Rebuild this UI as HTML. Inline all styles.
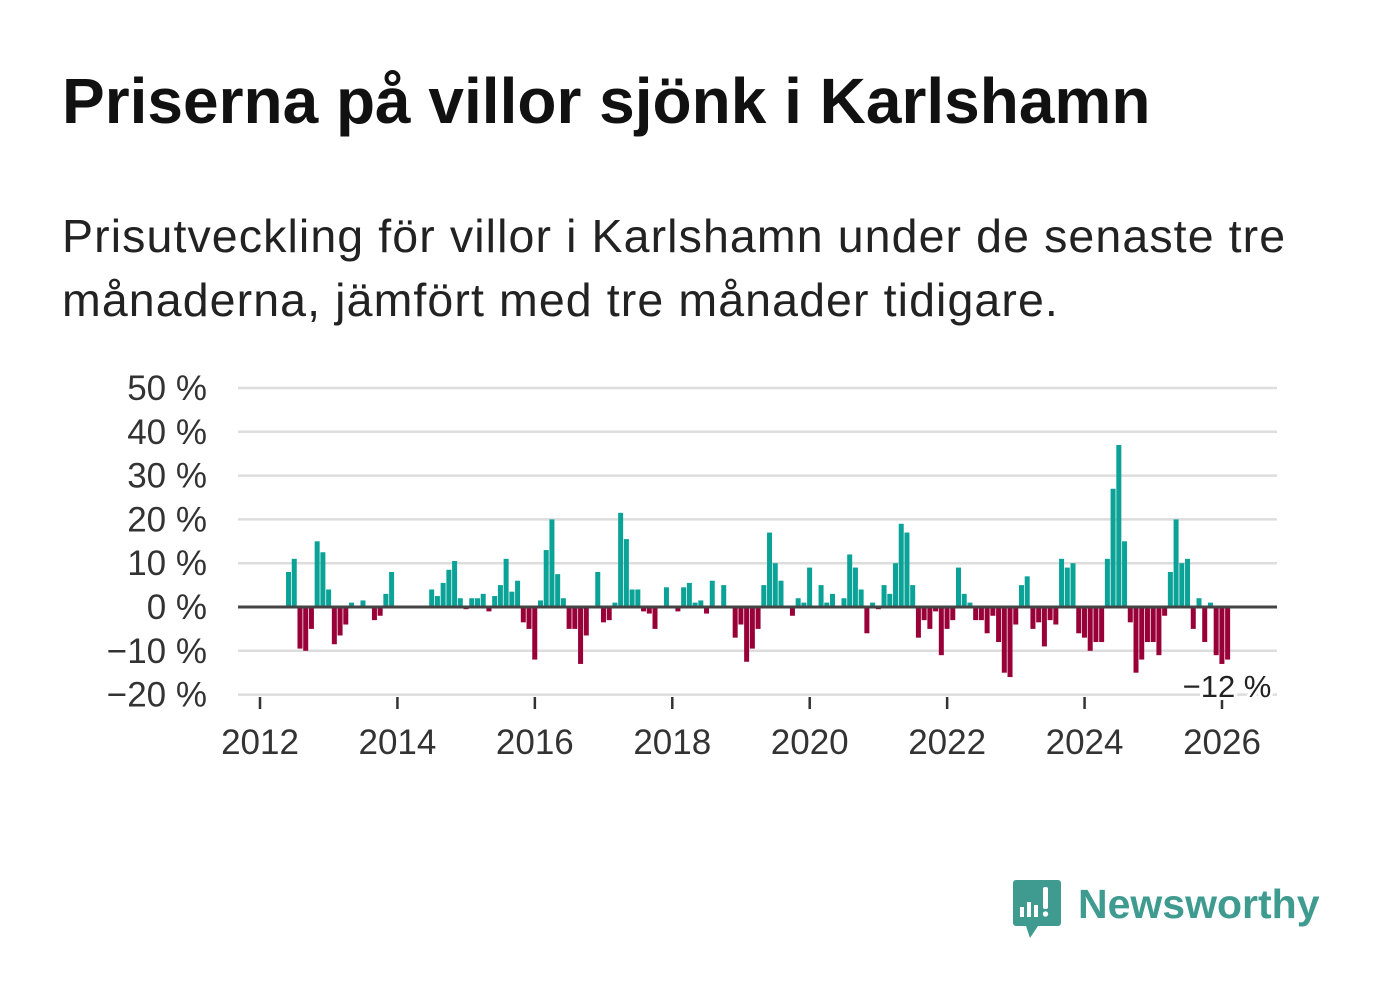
<!DOCTYPE html>
<html><head><meta charset="utf-8"><style>
body{margin:0;background:#fff;font-family:"Liberation Sans","DejaVu Sans",sans-serif;}
#wrap{position:relative;width:1382px;height:999px;overflow:hidden;}
h1{position:absolute;left:62px;top:64px;margin:0;font-size:64px;font-weight:bold;color:#111;letter-spacing:0px;white-space:nowrap;}
p.sub{position:absolute;left:62px;top:204px;margin:0;font-size:46.5px;letter-spacing:1.1px;line-height:64px;color:#222;width:1320px;white-space:nowrap;}
svg{position:absolute;left:0;top:0;}
</style></head><body><div id="wrap">
<h1>Priserna på villor sjönk i Karlshamn</h1>
<p class="sub">Prisutveckling för villor i Karlshamn under de senaste tre<br>månaderna, jämfört med tre månader tidigare.</p>
<svg id="chart" width="1382" height="999"></svg>
</div>
<script>
const yTicks=[50,40,30,20,10,0,-10,-20];
const xYears=[2012,2014,2016,2018,2020,2022,2024,2026];
const startMonth=5; // Jun 2012
const values=[8,11,-9.5,-10,-5,15,12.5,
4,-8.5,-6.5,-4,1,0,1.5,0,-3,-2,3,8,
0,0,0,0,0,0,4,2.5,5.5,8.5,10.5,2,
-0.5,2,2,3,-1,2.5,5,11,3.5,6,-3.5,-5,
-12,1.5,13,20,7.5,2,-5,-5,-13,-6.5,0,8,
-3.5,-3,1,21.5,15.5,4,4,-1,-1.5,-5,0,4.5,
0.3,-1,4.5,5.5,1,1.5,-1.5,6,0,5,0,-7,
-4,-12.5,-9.5,-5,5,17,10,6,0,-2,2,1,
9,0,5,1,3,0,2,12,9,4,-6,1,
-0.5,5,3,10,19,17,5,-7,-3,-5,-1,-11,
-5,-3,9,3,1,-3,-3,-6,-2,-8,-15,-16,
-4,5,7,-5,-3.5,-9,-3,-4,11,9,10,-6,
-7,-10,-8,-8,11,27,37,15,-3.5,-15,-12,-8,
-8,-11,-2,8,20,10,11,-5,2,-8,1,-11,-13,-12];
const lastLabel="−12 %";
const svg=document.getElementById('chart');
const NS='http://www.w3.org/2000/svg';
const y=v=>607-v*4.38;
const xm=i=>260+i*(962/168);
function mk(t,a){const e=document.createElementNS(NS,t);for(const k in a)e.setAttribute(k,a[k]);svg.appendChild(e);return e;}
yTicks.forEach(t=>{
 const g=mk('line',{x1:238,x2:1277,y1:y(t),y2:y(t),stroke:t===0?'#444':'#ddd','stroke-width':t===0?3:2.5});
 
 
 const tx=mk('text',{x:207,y:y(t)+12,'text-anchor':'end','font-size':35,fill:'#333','font-family':'Liberation Sans, sans-serif'});
 tx.textContent=(t<0?'−'+(-t):t)+' %';
 
 
});
values.forEach((v,k)=>{
 const i=startMonth+k; if(v===0)return;
 const b=mk('rect',{x:xm(i)-2.6,width:5,y:Math.min(y(v),y(0)),height:Math.abs(y(v)-y(0)),fill:v>0?'#0ba398':'#990038'});
 
 
});
mk('line',{x1:238,x2:1277,y1:y(0),y2:y(0),stroke:'#444','stroke-width':3});
xYears.forEach(yr=>{
 const x=xm((yr-2012)*12);
 const tk=mk('line',{x1:x,x2:x,y1:697,y2:709,stroke:'#333','stroke-width':2.5});
 
 
 const t=mk('text',{x:x,y:754,'text-anchor':'middle','font-size':35,fill:'#333','font-family':'Liberation Sans, sans-serif'});
 t.textContent=yr;
 
 
});
const ll=mk('text',{x:1227,y:697,'text-anchor':'middle','font-size':31,fill:'#222','font-family':'Liberation Sans, sans-serif',stroke:'#fff','stroke-width':6,'paint-order':'stroke'});
ll.textContent=lastLabel;


const lg=mk('g',{});


lg.innerHTML='<path d="M1016 880 h42 a3 3 0 0 1 3 3 v40 a3 3 0 0 1 -3 3 h-20 l-8 12 l-4 -12 h-10 a3 3 0 0 1 -3 -3 v-40 a3 3 0 0 1 3 -3z" fill="#3f9b8f"/>'+
'<rect x="1020" y="907" width="4" height="10" fill="#fff"/><rect x="1027" y="902" width="4" height="15" fill="#fff"/><rect x="1034" y="905" width="4" height="12" fill="#fff"/><rect x="1043" y="887" width="5" height="22" rx="2" fill="#fff"/><circle cx="1045.5" cy="914" r="2.7" fill="#fff"/>'+
'<text x="1078" y="918" font-size="41" font-weight="bold" fill="#3f9b8f" font-family="Liberation Sans, sans-serif">Newsworthy</text>';
</script></body></html>
